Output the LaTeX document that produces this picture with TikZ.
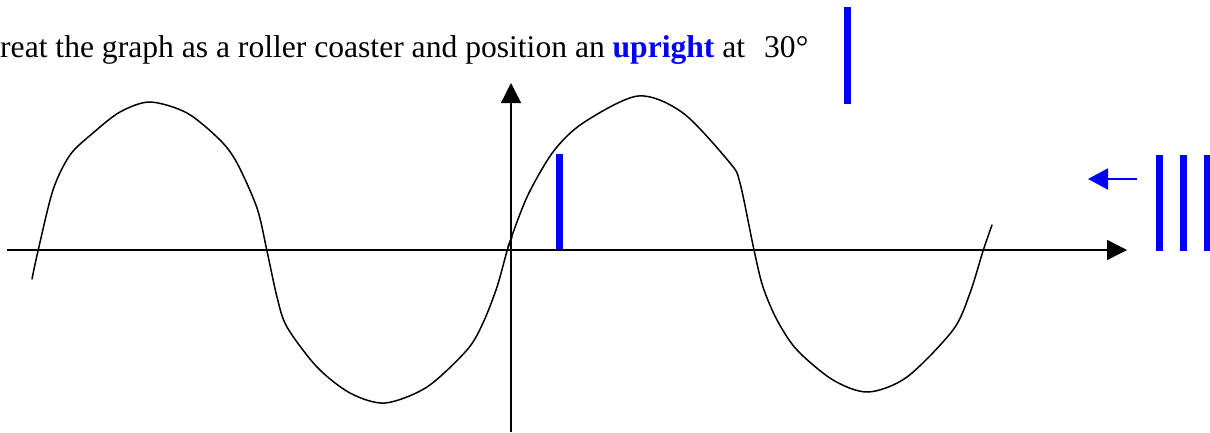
\documentclass[tikz,border=0pt]{standalone}
\usepackage{fontspec}
\setmainfont{Liberation Serif}
\usetikzlibrary{arrows.meta}
\definecolor{pureblue}{RGB}{0,0,255}
\begin{document}
\begin{tikzpicture}[x=1pt,y=-1pt,
  axisline/.style={line width=1.4pt,-{Triangle[length=20pt,width=20pt]}},
  curveline/.style={line width=1.5pt,line join=round,line cap=round},
  bluebar/.style={fill=pureblue},
  bluearrow/.style={pureblue,line width=2pt,-{Triangle[length=20pt,width=21pt]}}]
\useasboundingbox (0,0) rectangle (1210,432);
% title
\node[anchor=base west,inner sep=0pt,font=\fontsize{31.6}{34}\selectfont] (title) at (0,57)
  {reat the graph as a roller coaster and position an \textcolor{pureblue}{\textbf{upright}} at\hspace{0.6em}30°};
% axes
\coordinate (xs) at (7,250);
\coordinate (xe) at (1127,250);
\coordinate (ys) at (511,432);
\coordinate (ye) at (511,83);
\draw[axisline] (xs) -- (xe);
\draw[axisline] (ys) -- (ye);
% curve
\draw[curveline] plot[smooth,tension=0.5] coordinates {
 (32,279) (38,251) (53,190) (70,155) (93,133) (120,112) (150,102) (187,113)
 (220,140) (237,163) (257,208) (267,251) (277,297) (287,327) (317,367) (350,393)
 (385,403) (427,387) (467,350) (483,323) (497,287) (507,251) (512,237)};
\draw[curveline] plot[smooth,tension=0.5] coordinates {
 (508,247) (527,197) (553,152) (583,123) (638,96) (683,113) (730,163) (740,183)
 (754,250) (763,287) (777,320) (797,350) (833,380) (868,392) (907,377) (953,330)
 (970,293) (983,251) (992,225)};
% blue uprights
\fill[bluebar] (844,7) rectangle (850.5,104);
\fill[bluebar] (556,154) rectangle (563,249);
\fill[bluebar] (1156,155) rectangle (1163,251);
\fill[bluebar] (1180,155) rectangle (1187,251);
\fill[bluebar] (1204,155) rectangle (1211,251);
% blue arrow
\coordinate (as) at (1137,179);
\coordinate (ae) at (1088,179);
\draw[bluearrow] (as) -- (ae);
\end{tikzpicture}
\end{document}
